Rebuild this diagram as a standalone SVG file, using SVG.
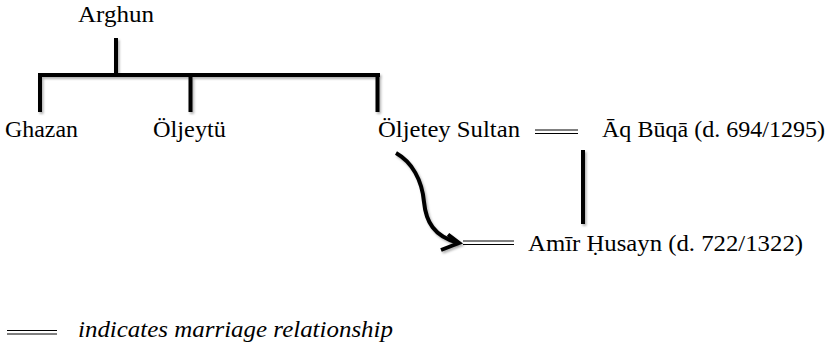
<svg xmlns="http://www.w3.org/2000/svg" width="839" height="344" viewBox="0 0 839 344">
<defs>
<filter id="sh" filterUnits="userSpaceOnUse" x="0" y="0" width="839" height="344">
<feDropShadow dx="1.5" dy="2" stdDeviation="1.2" flood-color="#000" flood-opacity="0.3"/>
</filter>
</defs>
<style>
.t{font-size:23px;fill:#000}
.it{font-style:italic}
.ln{stroke:#000;stroke-width:4;fill:none;filter:url(#sh)}
.dbl{stroke:#000;stroke-width:1;fill:none}
</style>
<rect width="839" height="344" fill="#fff"/>
<g id="connectors">
<path class="ln" d="M116,38 V75 M38,75 H380 M40,75 V112 M190.5,75 V112 M377.5,75 V112"/>
<path class="ln" d="M583,150 V224"/>
<path class="ln" d="M396,153 C412,162 422,180 424,202 C426,222 434,236 457,242.5"/>
<path class="ln" d="M448,234.5 L459,243 L441,250" stroke-linejoin="miter"/>
<path class="dbl" d="M535,130 H578 M535,133.5 H578"/>
<path class="dbl" d="M463,241 H514 M463,244.5 H514"/>
</g>
<g class="t" font-family="Liberation Serif">
<g id="n-arghun"><text font-family="Liberation Serif" x="78" y="22" textLength="76" lengthAdjust="spacingAndGlyphs">Arghun</text></g>
<g id="n-ghazan"><text font-family="Liberation Serif" x="5" y="137" textLength="73" lengthAdjust="spacingAndGlyphs">Ghazan</text></g>
<g id="n-oljeytu"><text font-family="Liberation Serif" x="153" y="137" textLength="73" lengthAdjust="spacingAndGlyphs">Öljeytü</text></g>
<g id="n-oljetey"><text font-family="Liberation Serif" x="378" y="137" textLength="142" lengthAdjust="spacingAndGlyphs">Öljetey Sultan</text></g>
<g id="n-aqbuqa"><text font-family="Liberation Serif" x="602" y="137" textLength="223" lengthAdjust="spacingAndGlyphs">Āq Būqā (d. 694/1295)</text></g>
<g id="n-amir"><text font-family="Liberation Serif" x="528" y="251" textLength="275" lengthAdjust="spacingAndGlyphs">Amīr Ḥusayn (d. 722/1322)</text></g>
<g id="legend">
<path class="dbl" d="M7,330.5 H57 M7,334 H57"/>
<text font-family="Liberation Serif" class="it" x="78" y="337" textLength="315" lengthAdjust="spacingAndGlyphs">indicates marriage relationship</text>
</g>
</g>
</svg>
